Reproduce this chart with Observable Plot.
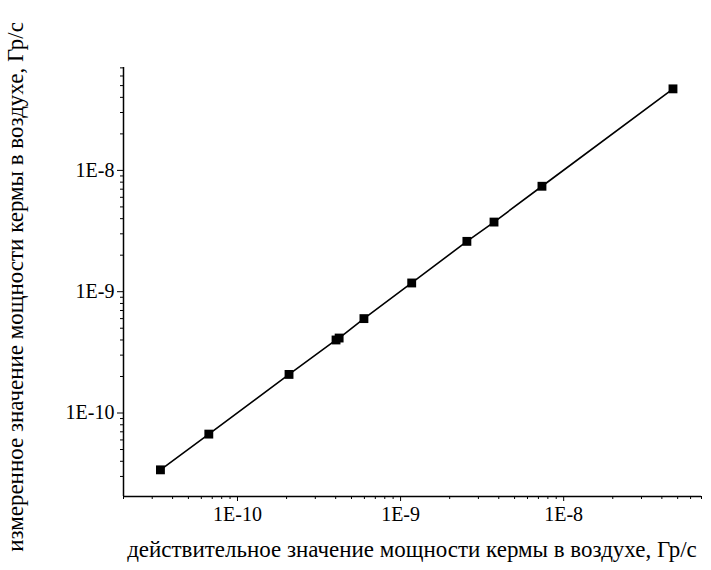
<!DOCTYPE html>
<html>
<head>
<meta charset="utf-8">
<script src="https://cdn.jsdelivr.net/npm/d3@7"></script>
<script src="https://cdn.jsdelivr.net/npm/@observablehq/plot@0.6"></script>
<style>
  html, body { margin: 0; padding: 0; background: #ffffff; }
  #chart { width: 711px; height: 570px; }
</style>
</head>
<body>
<div id="chart"></div>
<script>
// actual air kerma rate, Gy/s
const actual   = [3.37e-11, 6.67e-11, 2.07e-10, 4.02e-10, 4.2e-10, 5.96e-10, 1.17e-9, 2.55e-9, 3.74e-9, 7.36e-9, 4.68e-8];
// measured air kerma rate, Gy/s
const measured = [3.4e-11, 6.7e-11, 2.08e-10, 4.0e-10, 4.15e-10, 6.0e-10, 1.18e-9, 2.6e-9, 3.75e-9, 7.4e-9, 4.7e-8];

const majorTicks = [1e-10, 1e-9, 1e-8];
const majorLabels = ["1E-10", "1E-9", "1E-8"];
const minorMultipliers = [2, 3, 4, 5, 6, 7, 8, 9];
const decades = [1e-11, 1e-10, 1e-9, 1e-8];

const xDomain = [2.0e-11, 7.0e-8];
const yDomain = [2.05e-11, 7.05e-8];

const xTitle = "действительное значение мощности кермы в воздухе, Гр/с";
const yTitle = "измеренное значение мощности кермы в воздухе, Гр/с";

const FONT = "'Liberation Serif', 'Times New Roman', 'DejaVu Serif', serif";

const data = actual.map((a, i) => ({x: a, y: measured[i]}));
const minorX = decades.flatMap(d => minorMultipliers.map(m => m * d)).filter(v => v >= xDomain[0] && v <= xDomain[1]);
const minorY = decades.flatMap(d => minorMultipliers.map(m => m * d)).filter(v => v >= yDomain[0] && v <= yDomain[1]);
const fmt = v => majorLabels[majorTicks.findIndex(t => Math.abs(t - v) / v < 1e-6)];

const chart = Plot.plot({
  width: 711,
  height: 570,
  marginLeft: 123,
  marginRight: 10,
  marginTop: 67,
  marginBottom: 74,
  style: {background: "#ffffff", color: "#000", fontFamily: FONT},
  x: {type: "log", domain: xDomain, axis: null},
  y: {type: "log", domain: yDomain, axis: null},
  marks: [
    Plot.ruleX([xDomain[0]], {stroke: "#000", strokeWidth: 1.5}),
    Plot.ruleY([yDomain[0]], {stroke: "#000", strokeWidth: 1.5}),
    Plot.axisX(minorX, {tickSize: 3, text: null, stroke: "#000", label: null}),
    Plot.axisY(minorY, {tickSize: 3, text: null, stroke: "#000", label: null}),
    Plot.axisX(majorTicks, {tickSize: 5, tickPadding: 5, tickFormat: fmt, fontSize: 20, fill: "#000", stroke: "#000", label: null}),
    Plot.axisY(majorTicks, {tickSize: 6, tickPadding: 3, tickFormat: fmt, fontSize: 20, fill: "#000", stroke: "#000", label: null}),
    Plot.line(data, {x: "x", y: "y", stroke: "#000", strokeWidth: 1.6}),
    Plot.dot(data, {x: "x", y: "y", symbol: "square", r: 5, fill: "#000", stroke: null})
  ]
});

document.getElementById("chart").appendChild(chart);

const svg = d3.select(chart);
svg.style("font-family", FONT);
svg.selectAll("g").style("font-family", FONT);
svg.selectAll("text").style("font-family", FONT);

const xt = svg.append("text")
  .attr("x", 412).attr("y", 557)
  .attr("text-anchor", "middle")
  .attr("font-size", 20)
  .attr("fill", "#000")
  .style("font-family", FONT)
  .text(xTitle);
// size the title font so its width matches the reference (about 570 px)
const w = xt.node().getComputedTextLength();
const fs = 20 * 570 / w;
xt.attr("font-size", fs);
svg.append("text")
  .attr("transform", "translate(23,287) rotate(-90)")
  .attr("text-anchor", "middle")
  .attr("font-size", fs)
  .attr("fill", "#000")
  .style("font-family", FONT)
  .text(yTitle);
</script>
</body>
</html>
